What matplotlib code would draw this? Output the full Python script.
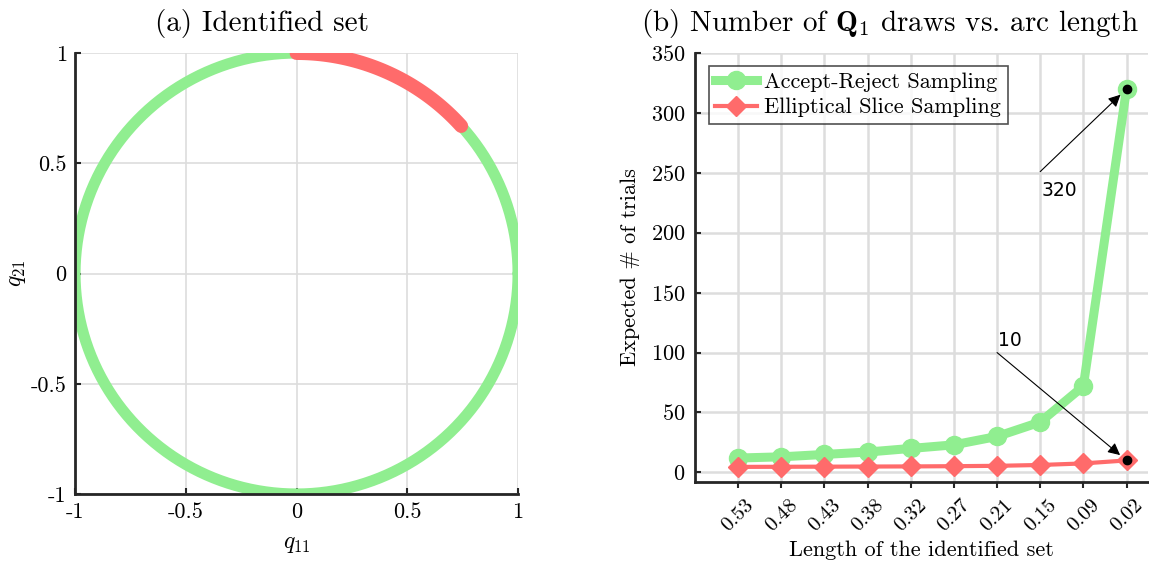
import numpy as np
import matplotlib
matplotlib.use('Agg')
import matplotlib.pyplot as plt

plt.rcParams['font.family'] = 'serif'
plt.rcParams['font.serif'] = ['cmr10', 'DejaVu Serif']
plt.rcParams['mathtext.fontset'] = 'cm'
plt.rcParams['axes.unicode_minus'] = False
plt.rcParams['axes.formatter.use_mathtext'] = True

# data
arc_start_deg = 90
arc_end_deg = 42
arc_labels = ['0.53', '0.48', '0.43', '0.38', '0.32', '0.27', '0.21', '0.15', '0.09', '0.02']
accept_reject = [12, 13, 15, 17, 20, 23, 30, 42, 72, 320]
elliptical = [4.6, 4.7, 4.8, 4.9, 5.0, 5.2, 5.5, 6.2, 7.5, 10]
circle_ticks = [-1, -0.5, 0, 0.5, 1]
circle_ticklabels = ['-1', '-0.5', '0', '0.5', '1']
trial_ticks = [0, 50, 100, 150, 200, 250, 300, 350]

green = '#90EE90'
red = '#FF6B6B'
spine_col = '#262626'
grid_col = '#DDDDDD'

fig = plt.figure(figsize=(11.49, 5.69), dpi=100)

# Panel (a): circle with identified arc
ax1 = fig.add_axes([0.0653, 0.1318, 0.3856, 0.775])
t = np.linspace(0, 2 * np.pi, 721)
ax1.plot(np.cos(t), np.sin(t), color=green, linewidth=8, solid_capstyle='round', zorder=2)
ta = np.deg2rad(np.linspace(arc_end_deg, arc_start_deg, 100))
ax1.plot(np.cos(ta), np.sin(ta), color=red, linewidth=10, solid_capstyle='round', zorder=3)
ax1.set_xlim(-1, 1)
ax1.set_ylim(-1, 1)
ax1.set_xticks(circle_ticks)
ax1.set_xticklabels(circle_ticklabels)
ax1.set_yticks(circle_ticks)
ax1.set_yticklabels(circle_ticklabels)
ax1.set_xlabel('$q_{11}$', fontsize=17, labelpad=8)
ax1.set_ylabel('$q_{21}$', fontsize=17, labelpad=2)
ax1.set_title('(a) Identified set', fontsize=21, pad=16, x=0.422)
ax1.grid(True, color=grid_col, linewidth=1.2)
ax1.set_axisbelow(True)
for side in ['top', 'right']:
    ax1.spines[side].set_visible(False)
for side in ['left', 'bottom']:
    ax1.spines[side].set_color(spine_col)
    ax1.spines[side].set_linewidth(2)
ax1.tick_params(direction='in', length=4, width=1.5, color=spine_col, labelsize=16, pad=6)

# Panel (b): expected number of trials
ax2 = fig.add_axes([0.6049, 0.1529, 0.3943, 0.754])
x = np.arange(1, len(arc_labels) + 1)
ax2.plot(x, accept_reject, color=green, linewidth=6.5, marker='o', markersize=13,
         label='Accept-Reject Sampling', zorder=3)
ax2.plot(x, elliptical, color=red, linewidth=3, marker='D', markersize=10,
         label='Elliptical Slice Sampling', zorder=4)
ax2.plot(x[-1], accept_reject[-1], 'o', color='black', markersize=6, zorder=5)
ax2.plot(x[-1], elliptical[-1], 'o', color='black', markersize=6, zorder=5)

arrow = dict(arrowstyle='-|>', color='black', lw=0.8, mutation_scale=18, shrinkA=0, shrinkB=6)
ax2.annotate('', xy=(x[-1], accept_reject[-1]), xytext=(8.0, 251), arrowprops=arrow)
ax2.text(8.02, 243, '320', fontsize=13.5, family='DejaVu Sans', ha='left', va='top')
ax2.annotate('', xy=(x[-1], elliptical[-1]), xytext=(7.0, 100), arrowprops=arrow)
ax2.text(7.02, 102, '10', fontsize=13.5, family='DejaVu Sans', ha='left', va='bottom')

ax2.set_xlim(0, 10.5)
ax2.set_ylim(-8, 350)
ax2.set_xticks(x)
ax2.set_xticklabels(arc_labels, rotation=45, ha='center', va='top')
ax2.set_yticks(trial_ticks)
ax2.set_xlabel('Length of the identified set', fontsize=16, labelpad=4)
ax2.set_ylabel('Expected # of trials', fontsize=16, labelpad=8)
ax2.set_title('(b) Number of $\\mathbf{Q}_1$ draws vs. arc length', fontsize=21, pad=16, x=0.43)
ax2.grid(True, color=grid_col, linewidth=1.8)
ax2.set_axisbelow(True)
for side in ['top', 'right']:
    ax2.spines[side].set_visible(False)
for side in ['left', 'bottom']:
    ax2.spines[side].set_color(spine_col)
    ax2.spines[side].set_linewidth(2)
ax2.tick_params(axis='y', direction='in', length=4, width=1.5, color=spine_col, labelsize=16, pad=7)
ax2.tick_params(axis='x', direction='out', length=4, width=1.5, color=spine_col, labelsize=15, pad=6)

leg = ax2.legend(loc='upper left', bbox_to_anchor=(0.02, 0.98), fontsize=16, frameon=True,
                 fancybox=False, edgecolor=spine_col, handlelength=1.9, borderpad=0.3,
                 labelspacing=0.25, handletextpad=0.3, borderaxespad=0.2)
leg.get_frame().set_linewidth(1.2)

fig.savefig('out.png', dpi=100)
